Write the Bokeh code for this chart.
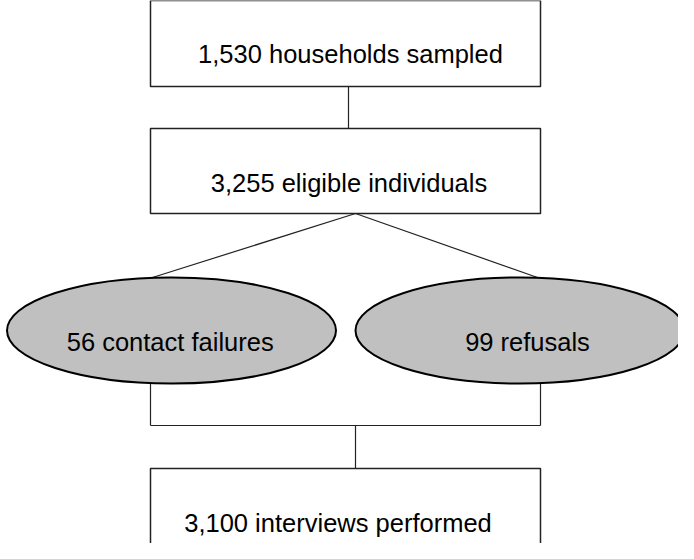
from bokeh.plotting import figure
from bokeh.models import Range1d
from bokeh.core.properties import value
from bokeh.embed import file_html
from bokeh.resources import INLINE

# --- content ---
box_labels = ["1,530 households sampled", "3,255 eligible individuals", "3,100 interviews performed"]
oval_labels = ["56 contact failures", "99 refusals"]

# --- layout (pixel-like units, y down) ---
box_left = [158, 158, 158]
box_right = [548, 548, 548]
box_top = [8, 136, 476]
box_bottom = [94, 221, 572]
box_text_x = [358, 356.5, 345.5]
box_text_y = [61, 190.5, 530]

oval_x = [179, 527.5]
oval_y = [338, 338]
oval_w = [329, 329]
oval_h = [106, 106]
oval_text_x = [177.7, 535]
oval_text_y = [349.3, 349]

conn_xs = [[356, 356], [363, 160], [363, 545], [158, 158], [548, 548], [158, 548], [363, 363]]
conn_ys = [[94, 136], [221, 285], [221, 285], [391, 433], [391, 433], [433, 433], [433, 476]]

W, H = 678, 543
p = figure(width=W, height=H, output_backend="svg", toolbar_location=None,
           x_range=Range1d(8, 8 + W), y_range=Range1d(8 + H, 8),
           min_border=0, outline_line_color=None, background_fill_color="white")
p.axis.visible = False
p.grid.visible = False

p.multi_line(conn_xs, conn_ys, line_color="#222222", line_width=1.2)

p.quad(left=box_left, right=box_right, top=box_top, bottom=box_bottom,
       fill_color="white", line_color="#222222", line_width=1.5)

p.ellipse(x=oval_x, y=oval_y, width=oval_w, height=oval_h,
          fill_color="#c0c0c0", line_color="black", line_width=2)

font = value("Liberation Sans")
p.text(x=box_text_x, y=box_text_y, text=box_labels, text_font=font,
       text_font_size="25.5px", text_align="center", text_baseline="alphabetic",
       text_color="black")
p.text(x=oval_text_x, y=oval_text_y, text=oval_labels, text_font=font,
       text_font_size="25.5px", text_align="center", text_baseline="alphabetic",
       text_color="black")

open("out.html", "w").write(file_html(p, INLINE))
